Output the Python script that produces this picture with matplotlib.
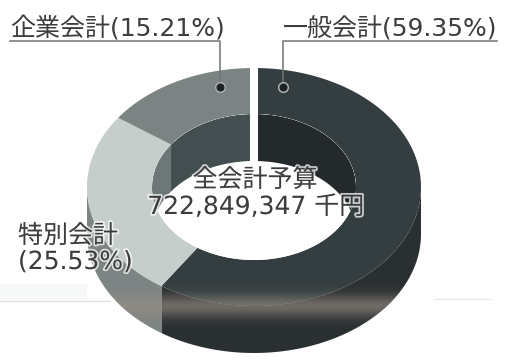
import numpy as np
import matplotlib.pyplot as plt
import matplotlib.patheffects as pe
from matplotlib.patches import Ellipse

plt.rcParams['font.family'] = ['DejaVu Sans', 'Noto Sans CJK JP']

# --- datos ---
names = ['一般会計', '特別会計', '企業会計']
shares = [59.35, 25.53, 15.21]
total_label = '722,849,347 千円'
title_label = '全会計予算'

top_colors = ['#343d3f', '#c6cecb', '#7b8483']
side_colors = ['#2a2f31', '#7d8584', '#7d8584']
wall_colors = ['#24292b', '#6d7777', '#424e50']

# --- geometria del anillo ---
cx, cy = 254, 187
a_out, b_out = 167, 119
a_in, b_in = 102, 73
depth = 47

def ring_pt(deg, a, b, dy=0):
    # angulo medido desde arriba, en sentido horario
    t = np.radians(deg)
    return cx + a * np.sin(t), cy - b * np.cos(t) + dy

fig = plt.figure(figsize=(5.13, 3.6), dpi=100)
ax = fig.add_axes([0, 0, 1, 1])
ax.set_xlim(0, 513)
ax.set_ylim(360, 0)
ax.axis('off')

# pliegue tenue del papel
ax.axhspan(284, 300, xmin=0, xmax=0.17, color='#f6f9f8', lw=0, zorder=0)
ax.plot([0, 110], [301, 301], color='#e0e0dd', lw=1, zorder=0)
ax.plot([435, 490], [299, 299], color='#e8e8e5', lw=1, zorder=0)

edges = np.concatenate([[0], np.cumsum(shares) * 3.6])

# cara exterior: solo la mitad delantera es visible
ring_patches = []
for i in range(3):
    lo, hi = max(edges[i], 90), min(edges[i + 1], 270)
    if hi <= lo:
        continue
    th = np.linspace(lo, hi, 80)
    x1, y1 = ring_pt(th, a_out, b_out)
    x2, y2 = ring_pt(th[::-1], a_out, b_out, depth)
    ring_patches.append(ax.fill(np.r_[x1, x2], np.r_[y1, y2], color=side_colors[i], lw=0, zorder=1)[0])

# cara superior
for i in range(3):
    th = np.linspace(edges[i], edges[i + 1], 120)
    x1, y1 = ring_pt(th, a_out, b_out)
    x2, y2 = ring_pt(th[::-1], a_in, b_in)
    ring_patches.append(ax.fill(np.r_[x1, x2], np.r_[y1, y2], color=top_colors[i], lw=0, zorder=3)[0])

# banda clara del pliegue, recortada al anillo
band = np.exp(-((np.linspace(0, 1, 60) - 0.5) / 0.24) ** 2)
rgba = np.zeros((60, 1, 4))
rgba[..., :3] = [0.60, 0.56, 0.52]
rgba[:, 0, 3] = band * 0.62
for p in ring_patches:
    im = ax.imshow(rgba, extent=[60, 450, 330, 282], aspect='auto', zorder=3.5)
    im.set_clip_path(p)
ax.set_xlim(0, 513)
ax.set_ylim(360, 0)

# hueco central y pared interior (mitad trasera)
hole = Ellipse((cx, cy), 2 * a_in, 2 * b_in, fc='white', ec='none', zorder=4)
ax.add_patch(hole)
for i in range(3):
    for lo, hi in [(edges[i], min(edges[i + 1], 90)), (max(edges[i], 270), edges[i + 1])]:
        if hi <= lo:
            continue
        th = np.linspace(lo, hi, 80)
        x1, y1 = ring_pt(th, a_in, b_in)
        x2, y2 = ring_pt(th[::-1], a_in, b_in, depth)
        w = ax.fill(np.r_[x1, x2], np.r_[y1, y2], color=wall_colors[i], lw=0, zorder=5)[0]
        w.set_clip_path(hole)

# ranura blanca en la parte superior
ax.plot([cx, cx], [60, 165], color='white', lw=5.8, solid_capstyle='butt', zorder=6)

# lineas guia de las etiquetas
guide = '#6f7373'
ax.plot([10, 220, 220], [41, 41, 85], color=guide, lw=1.1, zorder=7)
ax.plot([497, 283, 283], [41, 41, 85], color=guide, lw=1.1, zorder=7)
for px, py in [(220, 87), (283, 87)]:
    ax.scatter([px], [py], s=48, c='#1d2122', edgecolors='#a9b0af', linewidths=1.1, zorder=8)

txt = '#3b3d3e'
halo = [pe.withStroke(linewidth=2.5, foreground='white', alpha=0.75)]
ax.text(10, 29, f'{names[2]}({shares[2]:.2f}%)', fontsize=18, color=txt, va='center', ha='left', zorder=9)
ax.text(497, 29, f'{names[0]}({shares[0]:.2f}%)', fontsize=18, color=txt, va='center', ha='right', zorder=9)
ax.text(18, 236, names[1], fontsize=18, color=txt, va='center', ha='left', zorder=9, path_effects=halo)
ax.text(18, 262, f'({shares[1]:.2f}%)', fontsize=18, color=txt, va='center', ha='left', zorder=9, path_effects=halo)
ax.text(255, 180, title_label, fontsize=18, color=txt, va='center', ha='center', zorder=9, path_effects=halo)
ax.text(256, 207, total_label, fontsize=18, color=txt, va='center', ha='center', zorder=9, path_effects=halo)

fig.savefig('out.png', dpi=100)
